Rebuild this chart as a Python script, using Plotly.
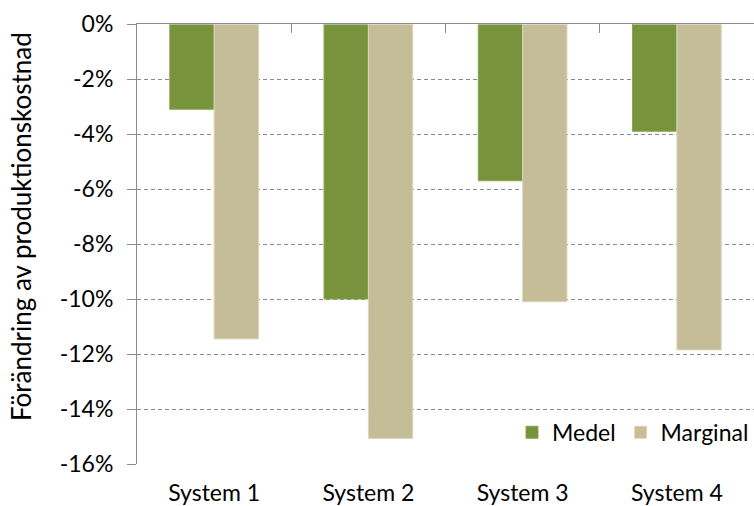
import plotly.graph_objects as go

categories = ["System 1", "System 2", "System 3", "System 4"]
medel = [-3.1, -10.0, -5.7, -3.9]
marginal = [-11.45, -15.07, -10.1, -11.85]
y_tickvals = [0, -2, -4, -6, -8, -10, -12, -14, -16]
y_ticktext = ["0%", "-2%", "-4%", "-6%", "-8%", "-10%", "-12%", "-14%", "-16%"]
y_title = "Förändring av produktionskostnad"

FONT = "Lato"
GRAY = "#8c8c8c"

fig = go.Figure()
fig.add_trace(go.Bar(name="Medel", x=categories, y=medel,
                     marker=dict(color="#77933C", line=dict(color="#8aa552", width=1))))
fig.add_trace(go.Bar(name="Marginal", x=categories, y=marginal,
                     marker=dict(color="#C4BD97", line=dict(color="#dcd7bd", width=1))))
# invisible trace to anchor top axis
fig.add_trace(go.Bar(x=categories, y=[0, 0, 0, 0], xaxis="x2", showlegend=False,
                     hoverinfo="skip", marker=dict(color="rgba(0,0,0,0)")))

fig.update_layout(
    width=754, height=506,
    margin=dict(l=137, r=0, t=24, b=42),
    paper_bgcolor="white", plot_bgcolor="white",
    barmode="group", bargap=0.425, bargroupgap=0,
    font=dict(family=FONT, size=23, color="#000000"),
    showlegend=True,
    legend=dict(orientation="h", x=1.0, xanchor="right", y=0.072, yanchor="middle",
                bgcolor="rgba(0,0,0,0)", font=dict(size=23), itemwidth=30,
                traceorder="normal"),
    xaxis=dict(type="category", categoryorder="array", categoryarray=categories,
               range=[-0.5, 3.5], showline=False, showgrid=False, ticks="",
               ticklabelstandoff=13, tickfont=dict(size=23)),
    xaxis2=dict(type="category", categoryorder="array", categoryarray=categories,
                overlaying="x", side="top", matches="x", showline=True,
                linecolor=GRAY, linewidth=1, ticks="inside", tickson="boundaries",
                ticklen=9, tickcolor=GRAY, showticklabels=False, showgrid=False),
    yaxis=dict(range=[-16, 0], tickvals=y_tickvals, ticktext=y_ticktext,
               showline=True, linecolor=GRAY, linewidth=1,
               ticks="outside", ticklen=9, tickcolor=GRAY,
               showgrid=True, gridcolor=GRAY, griddash="4px,3px", gridwidth=1,
               zeroline=False, ticklabelstandoff=9, tickfont=dict(size=23)),
    annotations=[dict(text=y_title, textangle=-90, xref="paper", yref="paper",
                      x=-0.187, y=0.54, xanchor="center", yanchor="middle",
                      showarrow=False, font=dict(size=26))],
)

fig.write_html("out.html")
